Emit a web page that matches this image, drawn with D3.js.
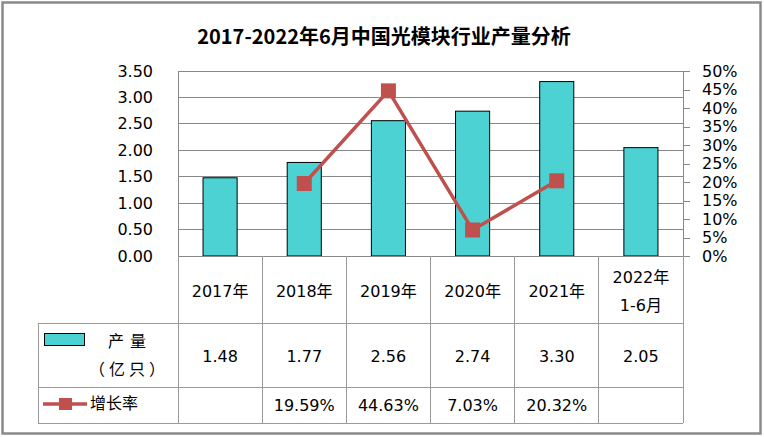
<!DOCTYPE html>
<html><head><meta charset="utf-8">
<script src="https://cdn.jsdelivr.net/npm/d3@7"></script>
<style>
html,body{margin:0;padding:0;background:#fff;}
svg text{font-family:"DejaVu Sans","Noto Sans CJK SC",sans-serif;}
</style></head>
<body>
<svg id="chart" width="764" height="437"></svg>
<script>
const title = "2017-2022年6月中国光模块行业产量分析";
const categories = [["2017年"],["2018年"],["2019年"],["2020年"],["2021年"],["2022年","1-6月"]];
const production = [1.48, 1.77, 2.56, 2.74, 3.30, 2.05];
const productionLabels = ["1.48","1.77","2.56","2.74","3.30","2.05"];
const growth = [null, 19.59, 44.63, 7.03, 20.32, null];
const growthLabels = ["", "19.59%", "44.63%", "7.03%", "20.32%", ""];
const leftTicks = [0, 0.5, 1.0, 1.5, 2.0, 2.5, 3.0, 3.5];
const rightTicks = [0, 5, 10, 15, 20, 25, 30, 35, 40, 45, 50];
const seriesNames = ["产量", "（亿只）", "增长率"];

const svg = d3.select("#chart");
const L = 178, R = 683, T = 71, B = 256;
const barColor = "#4dd2d4", lineColor = "#c0504d", gridColor = "#888888", tableColor = "#9a9a9a";

// outer frame
svg.append("rect").attr("x", 2.5).attr("y", 2.5).attr("width", 758).attr("height", 431)
  .attr("fill", "#fff").attr("stroke", "#8a8a8a").attr("stroke-width", 2.5);

// title
svg.append("text").attr("x", 384).attr("y", 35).attr("text-anchor", "middle")
  .attr("dominant-baseline", "central")
  .style("font-family", "'Noto Sans CJK SC',sans-serif").style("font-weight", "bold")
  .style("font-size", "20px").attr("fill", "#000").text(title);

const x = d3.scaleBand().domain(d3.range(categories.length)).range([L, R]).padding(0);
const yL = d3.scaleLinear().domain([0, 3.5]).range([B, T]);
const yR = d3.scaleLinear().domain([0, 50]).range([B, T]);

// gridlines
svg.append("g").selectAll("line").data(leftTicks.slice(1)).join("line")
  .attr("x1", L).attr("x2", R).attr("y1", d => yL(d)).attr("y2", d => yL(d))
  .attr("stroke", gridColor).attr("stroke-width", 1).attr("shape-rendering", "crispEdges");

// left axis
const gl = svg.append("g").attr("transform", `translate(${L},0)`)
  .call(d3.axisLeft(yL).tickValues(leftTicks).tickFormat(d3.format(".2f")).tickSize(0).tickPadding(25));
gl.select(".domain").attr("stroke", gridColor).attr("shape-rendering", "crispEdges");
gl.selectAll("text").style("font-size", "16px").attr("fill", "#000")
  .style("font-family", "'DejaVu Sans',sans-serif");

// right axis
const gr = svg.append("g").attr("transform", `translate(${R},0)`)
  .call(d3.axisRight(yR).tickValues(rightTicks).tickFormat(d => d + "%").tickSize(7).tickPadding(12));
gr.select(".domain").attr("stroke", gridColor).attr("shape-rendering", "crispEdges");
gr.selectAll(".tick line").attr("stroke", gridColor).attr("shape-rendering", "crispEdges");
gr.selectAll("text").style("font-size", "16px").attr("fill", "#000")
  .style("font-family", "'DejaVu Sans',sans-serif");

// bars
const bw = x.bandwidth() * 0.405;
svg.append("g").selectAll("rect").data(production).join("rect")
  .attr("x", (d, i) => x(i) + x.bandwidth() / 2 - bw / 2)
  .attr("y", d => yL(d)).attr("width", bw).attr("height", d => B - yL(d))
  .attr("fill", barColor).attr("stroke", "#000").attr("stroke-width", 1);

// line
const pts = growth.map((v, i) => ({v, i})).filter(d => d.v != null);
svg.append("path").datum(pts)
  .attr("d", d3.line().x(d => x(d.i) + x.bandwidth() / 2).y(d => yR(d.v)))
  .attr("fill", "none").attr("stroke", lineColor).attr("stroke-width", 3.5);
const ms = 15;
svg.append("g").selectAll("rect").data(pts).join("rect")
  .attr("x", d => x(d.i) + x.bandwidth() / 2 - ms / 2).attr("y", d => yR(d.v) - ms / 2)
  .attr("width", ms).attr("height", ms).attr("fill", lineColor);

// bottom axis line
svg.append("line").attr("x1", L).attr("x2", R).attr("y1", B).attr("y2", B)
  .attr("stroke", gridColor).attr("shape-rendering", "crispEdges");

// data table
const r1 = 323, r2 = 387, r3 = 423, legL = 38;
const tg = svg.append("g").attr("stroke", tableColor).attr("shape-rendering", "crispEdges");
[r1, r2, r3].forEach(yv => tg.append("line").attr("x1", legL).attr("x2", R).attr("y1", yv).attr("y2", yv));
const bounds = d3.range(categories.length).map(i => x(i)).concat([R]);
tg.selectAll("line.v").data(bounds).join("line").attr("class", "v")
  .attr("x1", d => d).attr("x2", d => d).attr("y1", B).attr("y2", r3);
tg.append("line").attr("x1", legL).attr("x2", legL).attr("y1", r1).attr("y2", r3);

const tt = svg.append("g").style("font-size", "16px").attr("fill", "#000");
categories.forEach((lines, i) => {
  const cx = x(i) + x.bandwidth() / 2;
  const cy = 291;
  lines.forEach((s, k) => {
    tt.append("text").attr("x", cx).attr("y", cy + (k - (lines.length - 1) / 2) * 28)
      .attr("text-anchor", "middle").attr("dominant-baseline", "central").text(s);
  });
  tt.append("text").attr("x", cx).attr("y", 356).attr("text-anchor", "middle")
    .attr("dominant-baseline", "central").text(productionLabels[i]);
  tt.append("text").attr("x", cx).attr("y", 405).attr("text-anchor", "middle")
    .attr("dominant-baseline", "central").text(growthLabels[i]);
});

// legend
svg.append("rect").attr("x", 44.5).attr("y", 333.5).attr("width", 40).attr("height", 12)
  .attr("fill", barColor).attr("stroke", "#000").attr("stroke-width", 1);
tt.append("text").attr("x", 130).attr("y", 341).attr("text-anchor", "middle")
  .attr("dominant-baseline", "central").style("letter-spacing", "6px").text(seriesNames[0]);
tt.append("text").attr("x", 89).attr("y", 368)
  .attr("dominant-baseline", "central").style("letter-spacing", "4px")
  .style("font-family", "'Noto Sans CJK SC',sans-serif").text(seriesNames[1]);
svg.append("line").attr("x1", 43).attr("x2", 87).attr("y1", 404).attr("y2", 404)
  .attr("stroke", lineColor).attr("stroke-width", 3.5);
svg.append("rect").attr("x", 59).attr("y", 398).attr("width", 13).attr("height", 12).attr("fill", lineColor);
tt.append("text").attr("x", 90).attr("y", 403).attr("dominant-baseline", "central").text(seriesNames[2]);
</script>
</body></html>
